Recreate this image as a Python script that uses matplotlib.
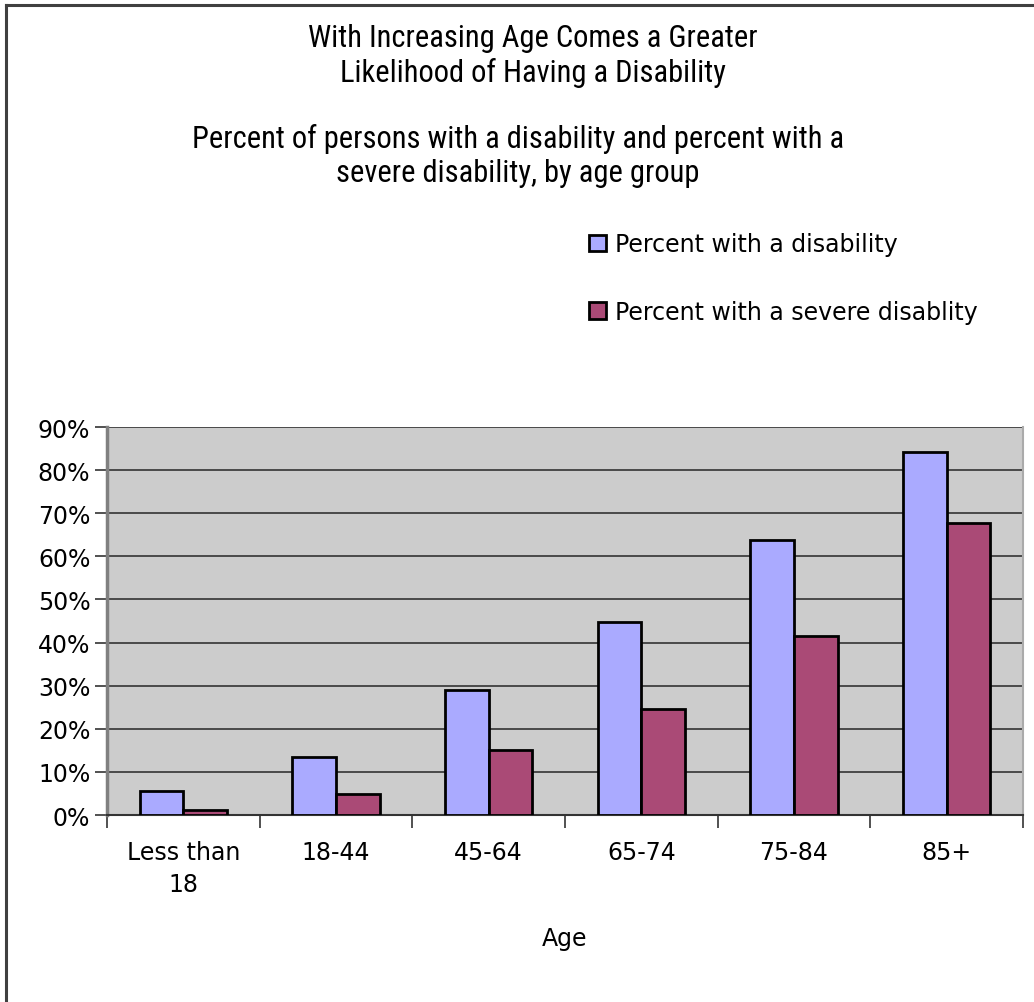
import numpy as np
import matplotlib
matplotlib.use("Agg")
import matplotlib.pyplot as plt
from matplotlib import font_manager
from matplotlib.lines import Line2D
from matplotlib.patches import Patch

# disability rates by age group (percent)
age_groups = ["Less than\n18", "18-44", "45-64", "65-74", "75-84", "85+"]
pct_disability = [5.5, 13.4, 29.0, 44.8, 63.8, 84.2]
pct_severe = [1.1, 4.8, 15.0, 24.5, 41.5, 67.7]

series_names = ["Percent with a disability", "Percent with a severe disablity"]

blue = "#AAAAFF"
plum = "#AA4A76"

W, H = 1034, 1003
fig = plt.figure(figsize=(W / 100, H / 100), dpi=100)

# narrow face for the headings if one is installed
installed = {f.name for f in font_manager.fontManager.ttflist}
narrow_face = None
for name in ["Liberation Sans Narrow", "DejaVu Sans Condensed", "Roboto Condensed"]:
    if name in installed:
        narrow_face = name
        break
if narrow_face:
    head_font = dict(family=[narrow_face, "DejaVu Sans"], size=22)
else:
    head_font = dict(family=["DejaVu Sans"], size=17)
plain = ["DejaVu Sans"]
fs = 17


def fx(px):
    return px / W


def fy(py):
    return 1 - py / H


# frame around the chart (only top and left edges fall inside the image)
fig.add_artist(Line2D([fx(5.5), fx(5.5)], [fy(5.5), 0], color="#404040", lw=2.2))
fig.add_artist(Line2D([fx(5.5), 1], [fy(5.5), fy(5.5)], color="#404040", lw=2.2))

fig.text(fx(533), fy(56), "With Increasing Age Comes a Greater\nLikelihood of Having a Disability",
         ha="center", va="center", linespacing=1.2, **head_font)
fig.text(fx(518), fy(156), "Percent of persons with a disability and percent with a\n"
         "severe disability, by age group",
         ha="center", va="center", linespacing=1.2, **head_font)

ax = fig.add_axes([fx(107), 1 - 816 / H, 916 / W, 388 / H])
ax.set_facecolor("#CCCCCC")

x = np.arange(len(age_groups))
bw = 1 / 3.5
ax.bar(x - bw / 2, pct_disability, bw, color=blue, edgecolor="black", linewidth=2, zorder=3)
ax.bar(x + bw / 2, pct_severe, bw, color=plum, edgecolor="black", linewidth=2, zorder=3)

ax.set_xlim(-0.5, len(age_groups) - 0.5)
ax.set_ylim(0, 90)
ax.set_yticks(np.arange(0, 91, 10))
ax.set_yticklabels(["%d%%" % v for v in range(0, 91, 10)])
ax.yaxis.grid(True, color="#333333", linewidth=1.2, zorder=1)

ax.set_xticks(np.arange(len(age_groups) + 1) - 0.5)
ax.set_xticklabels([])
ax.set_xticks(x, minor=True)
ax.set_xticklabels(age_groups, minor=True, fontsize=fs, family=plain, linespacing=1.4)
ax.tick_params(axis="x", which="minor", length=0, pad=18)
ax.tick_params(axis="x", which="major", length=9, width=1.2, color="#333333")
ax.tick_params(axis="y", length=9, width=1.2, color="#333333", labelsize=fs, pad=3)
for lab in ax.get_yticklabels():
    lab.set_family(plain)

for side in ["top", "right"]:
    ax.spines[side].set_visible(False)
ax.spines["left"].set_color("#808080")
ax.spines["left"].set_linewidth(2.5)
ax.spines["bottom"].set_color("#333333")
ax.spines["bottom"].set_linewidth(1.5)
ax.plot([1, 1], [0, 1], transform=ax.transAxes, color="#AAAAAA", lw=1.5, clip_on=False)

ax.set_xlabel("Age", fontsize=fs, family=plain, labelpad=22)

handles = [Patch(facecolor=blue, edgecolor="black", linewidth=2),
           Patch(facecolor=plum, edgecolor="black", linewidth=2)]
fig.legend(handles, series_names, loc="upper left", bbox_to_anchor=(fx(568), fy(212)),
           frameon=False, prop={"family": plain, "size": fs},
           handlelength=0.7, handleheight=0.7, handletextpad=0.4, labelspacing=1.85)

fig.savefig("out.png", dpi=100, facecolor="white")
